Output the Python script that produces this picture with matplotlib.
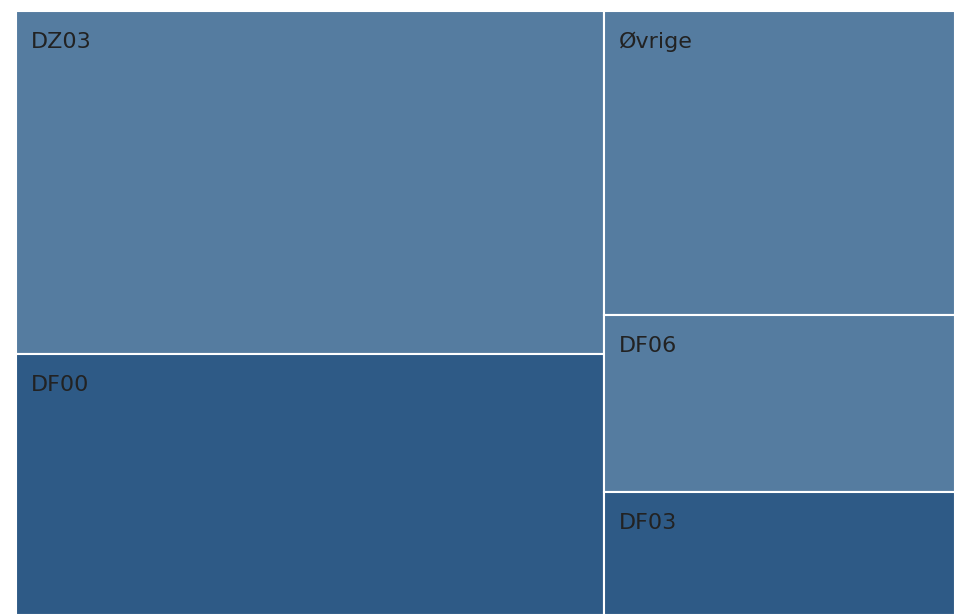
import matplotlib.pyplot as plt
from matplotlib.patches import Rectangle

# data: tiles grouped in two columns as in the reference layout
labels = ["DZ03", "DF00", "Øvrige", "DF06", "DF03"]
values = [35.6, 27.0, 18.8, 11.0, 7.6]
columns = [[0, 1], [2, 3, 4]]
shade = ["light", "dark", "light", "light", "dark"]

colors = {"light": "#557ca0", "dark": "#2e5a86"}

fig = plt.figure(figsize=(9.55, 6.15), dpi=100)
ax = fig.add_axes([16 / 955, 0, 939 / 955, 604 / 615])
W, H = 939.0, 604.0
ax.set_xlim(0, W)
ax.set_ylim(H, 0)
ax.axis("off")

total = sum(values)
x0 = 0.0
for col in columns:
    col_sum = sum(values[i] for i in col)
    w = W * col_sum / total
    y0 = 0.0
    for i in col:
        h = H * values[i] / col_sum
        ax.add_patch(Rectangle((x0, y0), w, h, facecolor=colors[shade[i]],
                               edgecolor="white", linewidth=1.5))
        ax.text(x0 + 15, y0 + 37, labels[i], fontsize=16, color="#222222",
                ha="left", va="baseline", family="DejaVu Sans")
        y0 += h
    x0 += w

fig.savefig("out.png", dpi=100)
